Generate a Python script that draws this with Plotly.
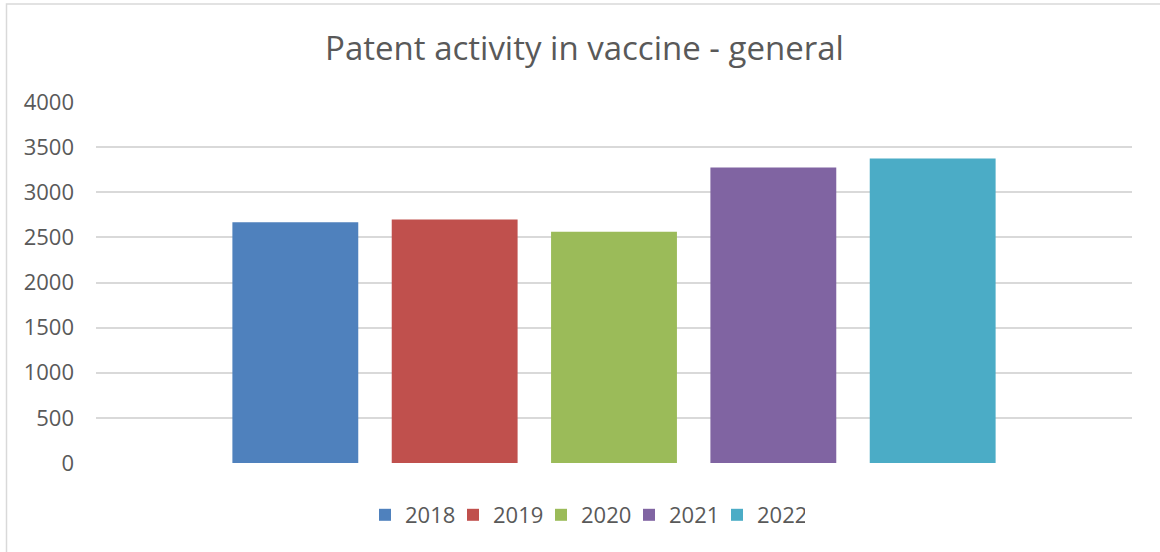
import plotly.graph_objects as go

years = ["2018", "2019", "2020", "2021", "2022"]
values = [2667, 2697, 2563, 3274, 3374]
colors = ["#4F81BD", "#C0504D", "#9BBB59", "#8064A2", "#4BACC6"]
y_ticks = [0, 500, 1000, 1500, 2000, 2500, 3000, 3500, 4000]
title_text = "Patent activity in vaccine - general"

TXT = "#595959"
FONT = "Open Sans"

fig = go.Figure()
for yr, v, c in zip(years, values, colors):
    fig.add_trace(go.Bar(x=[""], y=[v], name=yr, marker=dict(color=c, line=dict(width=0)),
                         hoverinfo="name+y"))

W, H = 1160, 552
L, R, T, B = 96, 28, 102, 89
pw, ph = W - L - R, H - T - B

def px_x(x):
    return (x - L) / pw

def px_y(y):
    return (H - B - y) / ph

fig.update_layout(
    width=W, height=H,
    margin=dict(l=L, r=R, t=T, b=B, autoexpand=False),
    paper_bgcolor="white", plot_bgcolor="white",
    barmode="group", bargap=0.231, bargroupgap=0.21,
    title=dict(text=title_text, x=584.5 / W, xref="container", xanchor="center",
               y=1 - 48 / H, yref="container", yanchor="middle",
               font=dict(family=FONT, size=33, color=TXT)),
    font=dict(family=FONT, color=TXT),
    showlegend=True,
    legend=dict(orientation="h", x=px_x(585), xanchor="center", y=px_y(515), yanchor="middle",
                font=dict(family=FONT, size=22, color=TXT), traceorder="normal",
                itemwidth=30, entrywidth=43, entrywidthmode="pixels",
                bgcolor="rgba(0,0,0,0)"),
    xaxis=dict(showticklabels=False, showgrid=False, zeroline=False, showline=False,
               ticks="", range=[-0.5, 0.5], fixedrange=True),
    yaxis=dict(range=[0, 4000], tickvals=y_ticks, ticktext=[str(t) for t in y_ticks],
               showgrid=True, gridcolor="#D9D9D9", gridwidth=1.5,
               zeroline=False, showline=False, ticks="",
               ticklabelstandoff=21,
               tickfont=dict(family=FONT, size=22, color=TXT)),
)

# chart border (top and left edges visible in the reference)
fig.add_shape(type="rect", xref="paper", yref="paper",
              x0=px_x(6.5), x1=px_x(1170), y0=px_y(565), y1=px_y(4),
              line=dict(color="#D9D9D9", width=1.5), fillcolor="rgba(0,0,0,0)", layer="below")

fig.write_html("out.html", config={"displayModeBar": False},
               post_script="document.body.style.margin='0';document.body.style.overflow='hidden';")
